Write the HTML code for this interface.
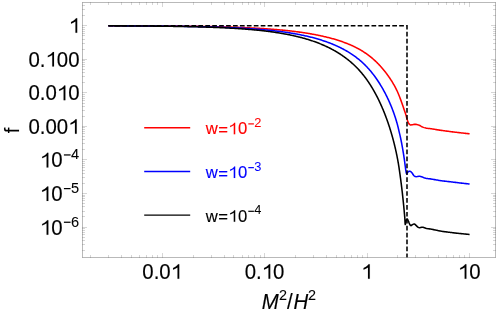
<!DOCTYPE html>
<html><head><meta charset="utf-8"><title>plot</title>
<style>html,body{margin:0;padding:0;background:#fff;overflow:hidden}</style></head>
<body>
<svg width="498" height="314" viewBox="0 0 498 314" style="display:block;will-change:transform">
<rect width="498" height="314" fill="#fff"/>
<path d="M108.40,25.76 L109.22,25.76 L110.04,25.76 L110.85,25.77 L111.67,25.77 L112.49,25.77 L113.31,25.77 L114.13,25.77 L114.94,25.78 L115.76,25.78 L116.58,25.78 L117.40,25.78 L118.22,25.78 L119.03,25.79 L119.85,25.79 L120.67,25.79 L121.49,25.79 L122.31,25.79 L123.12,25.80 L123.94,25.80 L124.76,25.80 L125.58,25.80 L126.40,25.81 L127.21,25.81 L128.03,25.81 L128.85,25.81 L129.67,25.82 L130.49,25.82 L131.30,25.82 L132.12,25.83 L132.94,25.83 L133.76,25.83 L134.58,25.83 L135.39,25.84 L136.21,25.84 L137.03,25.84 L137.85,25.85 L138.67,25.85 L139.48,25.85 L140.30,25.86 L141.12,25.86 L141.94,25.86 L142.76,25.87 L143.57,25.87 L144.39,25.88 L145.21,25.88 L146.03,25.88 L146.85,25.89 L147.66,25.89 L148.48,25.90 L149.30,25.90 L150.12,25.90 L150.94,25.91 L151.75,25.91 L152.57,25.92 L153.39,25.92 L154.21,25.93 L155.03,25.93 L155.84,25.94 L156.66,25.94 L157.48,25.95 L158.30,25.95 L159.12,25.96 L159.93,25.96 L160.75,25.97 L161.57,25.97 L162.39,25.98 L163.21,25.99 L164.02,25.99 L164.84,26.00 L165.66,26.00 L166.48,26.01 L167.30,26.02 L168.11,26.02 L168.93,26.03 L169.75,26.04 L170.57,26.04 L171.39,26.05 L172.20,26.06 L173.02,26.06 L173.84,26.07 L174.66,26.08 L175.48,26.09 L176.29,26.09 L177.11,26.10 L177.93,26.11 L178.75,26.12 L179.57,26.13 L180.38,26.13 L181.20,26.14 L182.02,26.15 L182.84,26.16 L183.66,26.17 L184.47,26.18 L185.29,26.19 L186.11,26.20 L186.93,26.21 L187.75,26.22 L188.56,26.23 L189.38,26.24 L190.20,26.25 L191.02,26.26 L191.84,26.27 L192.65,26.28 L193.47,26.29 L194.29,26.30 L195.11,26.32 L195.93,26.33 L196.74,26.34 L197.56,26.35 L198.38,26.37 L199.20,26.38 L200.01,26.39 L200.83,26.41 L201.65,26.42 L202.47,26.43 L203.29,26.45 L204.10,26.46 L204.92,26.48 L205.74,26.49 L206.56,26.51 L207.38,26.52 L208.19,26.54 L209.01,26.55 L209.83,26.57 L210.65,26.59 L211.47,26.60 L212.28,26.62 L213.10,26.64 L213.92,26.65 L214.74,26.67 L215.55,26.69 L216.37,26.71 L217.19,26.73 L218.01,26.75 L218.83,26.77 L219.64,26.79 L220.46,26.81 L221.28,26.83 L222.10,26.85 L222.91,26.87 L223.73,26.90 L224.55,26.92 L225.37,26.94 L226.18,26.96 L227.00,26.99 L227.82,27.01 L228.64,27.04 L229.46,27.06 L230.27,27.09 L231.09,27.11 L231.91,27.14 L232.73,27.17 L233.54,27.19 L234.36,27.22 L235.18,27.25 L236.00,27.28 L236.81,27.31 L237.63,27.34 L238.45,27.37 L239.27,27.40 L240.08,27.43 L240.90,27.46 L241.72,27.50 L242.54,27.53 L243.35,27.56 L244.17,27.60 L244.99,27.63 L245.80,27.67 L246.62,27.71 L247.44,27.74 L248.26,27.78 L249.07,27.82 L249.89,27.86 L250.71,27.90 L251.52,27.94 L252.34,27.98 L253.16,28.02 L253.98,28.06 L254.79,28.11 L255.61,28.15 L256.43,28.19 L257.24,28.24 L258.06,28.29 L258.88,28.33 L259.69,28.38 L260.51,28.43 L261.33,28.48 L262.14,28.53 L262.96,28.58 L263.77,28.64 L264.59,28.69 L265.41,28.74 L266.22,28.80 L267.04,28.86 L267.86,28.91 L268.67,28.97 L269.49,29.03 L270.30,29.09 L271.12,29.15 L271.93,29.21 L272.75,29.28 L273.57,29.34 L274.38,29.41 L275.20,29.47 L276.01,29.54 L276.83,29.61 L277.64,29.68 L278.46,29.75 L279.27,29.83 L280.09,29.90 L280.90,29.98 L281.71,30.05 L282.53,30.13 L283.34,30.21 L284.16,30.29 L284.97,30.37 L285.78,30.46 L286.60,30.54 L287.41,30.63 L288.23,30.71 L289.04,30.80 L289.85,30.89 L290.66,30.99 L291.48,31.08 L292.29,31.17 L293.10,31.27 L293.91,31.37 L294.73,31.47 L295.54,31.57 L296.35,31.68 L297.16,31.78 L297.97,31.89 L298.78,32.00 L299.59,32.11 L300.40,32.22 L301.21,32.33 L302.02,32.45 L302.83,32.57 L303.64,32.69 L304.45,32.81 L305.26,32.94 L306.07,33.06 L306.87,33.19 L307.68,33.32 L308.49,33.45 L309.30,33.59 L310.10,33.73 L310.91,33.87 L311.71,34.01 L312.52,34.15 L313.32,34.30 L314.13,34.45 L314.93,34.60 L315.73,34.75 L316.54,34.91 L317.34,35.07 L318.14,35.23 L318.94,35.40 L319.74,35.56 L320.54,35.73 L321.34,35.91 L322.14,36.08 L322.94,36.26 L323.74,36.44 L324.54,36.63 L325.33,36.82 L326.13,37.01 L326.92,37.20 L327.72,37.40 L328.51,37.60 L329.30,37.80 L330.09,38.01 L330.88,38.22 L331.67,38.44 L332.46,38.65 L333.25,38.87 L334.03,39.10 L334.82,39.33 L335.60,39.56 L336.39,39.80 L337.17,40.04 L337.95,40.29 L338.73,40.54 L339.50,40.79 L340.28,41.05 L341.06,41.31 L341.83,41.58 L342.60,41.85 L343.37,42.12 L344.14,42.40 L344.91,42.69 L345.67,42.98 L346.43,43.28 L347.19,43.58 L347.95,43.88 L348.71,44.19 L349.46,44.51 L350.22,44.83 L350.97,45.16 L351.71,45.49 L352.46,45.83 L353.20,46.17 L353.94,46.52 L354.68,46.87 L355.41,47.23 L356.14,47.60 L356.87,47.97 L357.60,48.35 L358.32,48.74 L359.03,49.14 L359.75,49.54 L360.46,49.94 L361.16,50.36 L361.86,50.78 L362.56,51.21 L363.25,51.64 L363.94,52.08 L364.63,52.53 L365.30,52.99 L365.98,53.45 L366.65,53.92 L367.32,54.39 L367.98,54.88 L368.63,55.37 L369.28,55.86 L369.93,56.37 L370.57,56.87 L371.20,57.39 L371.83,57.91 L372.46,58.44 L373.08,58.97 L373.69,59.51 L374.30,60.06 L374.90,60.61 L375.50,61.17 L376.10,61.73 L376.68,62.30 L377.27,62.88 L377.84,63.46 L378.41,64.04 L378.98,64.63 L379.54,65.23 L380.10,65.83 L380.65,66.43 L381.19,67.04 L381.73,67.66 L382.27,68.27 L382.80,68.90 L383.33,69.52 L383.85,70.16 L384.36,70.79 L384.87,71.43 L385.38,72.07 L385.88,72.72 L386.37,73.37 L386.86,74.03 L387.35,74.68 L387.83,75.35 L388.31,76.01 L388.78,76.68 L389.24,77.35 L389.71,78.03 L390.16,78.71 L390.61,79.39 L391.06,80.07 L391.50,80.76 L391.94,81.45 L392.36,82.15 L392.78,82.86 L393.19,83.56 L393.60,84.27 L394.01,84.98 L394.41,85.70 L394.81,86.41 L395.20,87.14 L395.58,87.86 L395.96,88.59 L396.32,89.31 L396.68,90.05 L397.03,90.78 L397.37,91.53 L397.70,92.28 L398.01,93.03 L398.33,93.79 L398.64,94.55 L398.94,95.31 L399.25,96.07 L399.56,96.82 L399.86,97.58 L400.16,98.35 L400.45,99.11 L400.74,99.87 L401.03,100.64 L401.31,101.41 L401.59,102.18 L401.86,102.95 L402.12,103.72 L402.38,104.50 L402.65,105.27 L402.91,106.05 L403.17,106.82 L403.44,107.60 L403.71,108.37 L403.98,109.14 L404.25,109.91 L404.52,110.68 L404.79,111.46 L405.05,112.23 L405.31,113.01 L405.55,113.79 L405.79,114.57 L406.01,115.36 L406.24,116.15 L406.46,116.93 L406.69,117.72 L406.93,118.50 L407.17,119.29 L407.40,120.08 L407.65,120.86 L407.92,121.63 L408.23,122.38 L408.59,123.14 L409.02,123.86 L409.55,124.43 L410.26,124.92 L411.03,124.97 L411.84,124.84 L412.67,124.69 L413.47,124.52 L414.28,124.36 L415.09,124.30 L415.90,124.36 L416.72,124.49 L417.51,124.65 L418.30,124.88 L419.07,125.18 L419.82,125.50 L420.54,125.89 L421.24,126.33 L421.95,126.74 L422.68,127.07 L423.45,127.36 L424.23,127.63 L425.02,127.87 L425.81,128.07 L426.61,128.22 L427.42,128.33 L428.23,128.41 L429.05,128.49 L429.87,128.58 L430.68,128.70 L431.48,128.82 L432.29,128.95 L433.10,129.08 L433.91,129.21 L434.71,129.35 L435.52,129.48 L436.33,129.62 L437.13,129.75 L437.94,129.88 L438.75,130.01 L439.56,130.13 L440.37,130.25 L441.18,130.36 L441.99,130.48 L442.80,130.59 L443.61,130.71 L444.42,130.82 L445.23,130.93 L446.04,131.03 L446.85,131.14 L447.66,131.25 L448.47,131.35 L449.28,131.46 L450.10,131.56 L450.91,131.66 L451.72,131.77 L452.53,131.87 L453.34,131.96 L454.16,132.06 L454.97,132.16 L455.78,132.26 L456.59,132.35 L457.40,132.44 L458.22,132.54 L459.03,132.63 L459.84,132.72 L460.66,132.82 L461.47,132.91 L462.28,133.00 L463.09,133.09 L463.91,133.18 L464.72,133.27 L465.53,133.36 L466.35,133.45 L467.16,133.54 L467.97,133.63 L468.79,133.71 L469.60,133.80" fill="none" stroke="#ff0000" stroke-width="1.55" stroke-linejoin="round"/>
<path d="M108.40,25.79 L109.30,25.80 L110.21,25.80 L111.11,25.80 L112.01,25.80 L112.92,25.81 L113.82,25.81 L114.72,25.81 L115.63,25.82 L116.53,25.82 L117.43,25.82 L118.34,25.83 L119.24,25.83 L120.14,25.83 L121.05,25.84 L121.95,25.84 L122.85,25.84 L123.76,25.85 L124.66,25.85 L125.56,25.85 L126.47,25.86 L127.37,25.86 L128.27,25.86 L129.18,25.87 L130.08,25.87 L130.98,25.88 L131.89,25.88 L132.79,25.89 L133.69,25.89 L134.60,25.89 L135.50,25.90 L136.40,25.90 L137.30,25.91 L138.21,25.91 L139.11,25.92 L140.01,25.92 L140.92,25.93 L141.82,25.93 L142.72,25.94 L143.63,25.95 L144.53,25.95 L145.43,25.96 L146.34,25.96 L147.24,25.97 L148.14,25.98 L149.05,25.98 L149.95,25.99 L150.85,26.00 L151.76,26.00 L152.66,26.01 L153.56,26.02 L154.47,26.02 L155.37,26.03 L156.27,26.04 L157.18,26.05 L158.08,26.05 L158.98,26.06 L159.89,26.07 L160.79,26.08 L161.69,26.09 L162.60,26.09 L163.50,26.10 L164.40,26.11 L165.31,26.12 L166.21,26.13 L167.11,26.14 L168.02,26.15 L168.92,26.16 L169.82,26.17 L170.73,26.18 L171.63,26.19 L172.53,26.20 L173.44,26.21 L174.34,26.22 L175.24,26.23 L176.14,26.25 L177.05,26.26 L177.95,26.27 L178.85,26.28 L179.76,26.29 L180.66,26.31 L181.56,26.32 L182.47,26.33 L183.37,26.35 L184.27,26.36 L185.18,26.38 L186.08,26.39 L186.98,26.40 L187.89,26.42 L188.79,26.43 L189.69,26.45 L190.60,26.47 L191.50,26.48 L192.40,26.50 L193.30,26.52 L194.21,26.53 L195.11,26.55 L196.01,26.57 L196.92,26.59 L197.82,26.61 L198.72,26.63 L199.63,26.65 L200.53,26.67 L201.43,26.69 L202.34,26.71 L203.24,26.73 L204.14,26.75 L205.04,26.77 L205.95,26.79 L206.85,26.82 L207.75,26.84 L208.66,26.86 L209.56,26.89 L210.46,26.91 L211.37,26.94 L212.27,26.96 L213.17,26.99 L214.07,27.02 L214.98,27.05 L215.88,27.07 L216.78,27.10 L217.69,27.13 L218.59,27.16 L219.49,27.19 L220.39,27.22 L221.30,27.25 L222.20,27.29 L223.10,27.32 L224.00,27.35 L224.91,27.39 L225.81,27.42 L226.71,27.46 L227.62,27.49 L228.52,27.53 L229.42,27.57 L230.32,27.61 L231.23,27.65 L232.13,27.69 L233.03,27.73 L233.93,27.77 L234.83,27.81 L235.74,27.86 L236.64,27.90 L237.54,27.95 L238.44,27.99 L239.35,28.04 L240.25,28.09 L241.15,28.14 L242.05,28.19 L242.95,28.24 L243.85,28.29 L244.76,28.34 L245.66,28.40 L246.56,28.45 L247.46,28.51 L248.36,28.57 L249.26,28.63 L250.17,28.69 L251.07,28.75 L251.97,28.81 L252.87,28.87 L253.77,28.94 L254.67,29.00 L255.57,29.07 L256.47,29.14 L257.37,29.21 L258.27,29.28 L259.17,29.35 L260.07,29.43 L260.97,29.50 L261.87,29.58 L262.77,29.66 L263.67,29.74 L264.57,29.82 L265.47,29.90 L266.37,29.99 L267.27,30.07 L268.17,30.16 L269.07,30.25 L269.97,30.34 L270.87,30.44 L271.76,30.53 L272.66,30.63 L273.56,30.73 L274.46,30.83 L275.35,30.93 L276.25,31.04 L277.15,31.15 L278.05,31.25 L278.94,31.37 L279.84,31.48 L280.73,31.59 L281.63,31.71 L282.53,31.83 L283.42,31.96 L284.31,32.08 L285.21,32.21 L286.10,32.34 L287.00,32.47 L287.89,32.60 L288.78,32.74 L289.68,32.88 L290.57,33.02 L291.46,33.17 L292.35,33.32 L293.24,33.47 L294.13,33.62 L295.02,33.78 L295.91,33.94 L296.80,34.10 L297.69,34.27 L298.57,34.43 L299.46,34.60 L300.35,34.78 L301.23,34.96 L302.12,35.14 L303.00,35.32 L303.88,35.51 L304.77,35.70 L305.65,35.90 L306.53,36.10 L307.41,36.30 L308.29,36.51 L309.17,36.72 L310.05,36.93 L310.92,37.15 L311.80,37.37 L312.67,37.60 L313.55,37.83 L314.42,38.06 L315.29,38.30 L316.16,38.54 L317.03,38.79 L317.90,39.04 L318.76,39.30 L319.63,39.56 L320.49,39.82 L321.35,40.09 L322.21,40.37 L323.07,40.65 L323.93,40.93 L324.78,41.22 L325.64,41.52 L326.49,41.82 L327.34,42.12 L328.19,42.43 L329.03,42.75 L329.88,43.07 L330.72,43.40 L331.56,43.73 L332.40,44.07 L333.23,44.42 L334.07,44.77 L334.90,45.12 L335.72,45.48 L336.55,45.85 L337.37,46.23 L338.19,46.61 L339.00,47.00 L339.82,47.39 L340.63,47.79 L341.43,48.19 L342.24,48.61 L343.04,49.03 L343.83,49.45 L344.63,49.89 L345.42,50.33 L346.20,50.77 L346.98,51.23 L347.76,51.69 L348.53,52.15 L349.30,52.63 L350.07,53.11 L350.83,53.60 L351.58,54.09 L352.33,54.59 L353.08,55.10 L353.82,55.62 L354.56,56.14 L355.29,56.67 L356.01,57.21 L356.73,57.76 L357.45,58.31 L358.15,58.87 L358.86,59.44 L359.55,60.02 L360.24,60.60 L360.92,61.19 L361.60,61.79 L362.27,62.40 L362.93,63.01 L363.59,63.63 L364.24,64.25 L364.89,64.89 L365.53,65.53 L366.16,66.17 L366.78,66.82 L367.40,67.48 L368.01,68.15 L368.62,68.82 L369.22,69.49 L369.81,70.18 L370.40,70.86 L370.98,71.56 L371.55,72.25 L372.12,72.96 L372.68,73.66 L373.23,74.38 L373.78,75.09 L374.32,75.82 L374.86,76.54 L375.39,77.27 L375.92,78.01 L376.43,78.75 L376.95,79.49 L377.46,80.24 L377.96,80.99 L378.45,81.75 L378.94,82.50 L379.43,83.27 L379.91,84.03 L380.38,84.80 L380.85,85.57 L381.32,86.35 L381.78,87.12 L382.23,87.91 L382.68,88.69 L383.12,89.48 L383.56,90.27 L384.00,91.06 L384.43,91.85 L384.85,92.65 L385.27,93.45 L385.69,94.25 L386.10,95.06 L386.50,95.86 L386.90,96.67 L387.29,97.49 L387.68,98.30 L388.07,99.12 L388.45,99.94 L388.83,100.76 L389.20,101.58 L389.56,102.41 L389.92,103.24 L390.28,104.07 L390.63,104.90 L390.98,105.73 L391.32,106.57 L391.66,107.41 L391.99,108.25 L392.32,109.09 L392.64,109.93 L392.96,110.78 L393.28,111.62 L393.58,112.47 L393.89,113.32 L394.19,114.18 L394.48,115.03 L394.77,115.89 L395.06,116.74 L395.33,117.60 L395.61,118.46 L395.88,119.32 L396.14,120.19 L396.40,121.05 L396.66,121.92 L396.90,122.79 L397.15,123.66 L397.39,124.53 L397.62,125.40 L397.84,126.28 L398.06,127.15 L398.27,128.03 L398.48,128.91 L398.68,129.79 L398.89,130.67 L399.09,131.55 L399.30,132.43 L399.51,133.31 L399.72,134.19 L399.93,135.07 L400.13,135.95 L400.33,136.83 L400.53,137.71 L400.72,138.59 L400.90,139.48 L401.08,140.36 L401.26,141.25 L401.43,142.13 L401.60,143.02 L401.77,143.91 L401.93,144.80 L402.09,145.69 L402.25,146.58 L402.41,147.47 L402.57,148.35 L402.72,149.24 L402.88,150.14 L403.03,151.03 L403.17,151.92 L403.32,152.81 L403.46,153.70 L403.60,154.59 L403.75,155.48 L403.88,156.38 L404.02,157.27 L404.15,158.16 L404.29,159.06 L404.41,159.95 L404.54,160.85 L404.66,161.74 L404.78,162.64 L404.89,163.53 L405.01,164.43 L405.13,165.32 L405.24,166.22 L405.37,167.11 L405.48,168.01 L405.60,168.91 L405.72,169.81 L405.85,170.70 L406.02,171.59 L406.22,172.68 L406.49,173.65 L406.82,173.83 L407.26,173.04 L407.81,172.09 L408.52,171.59 L409.42,171.25 L410.23,171.30 L411.01,171.82 L411.70,172.50 L412.27,173.18 L412.74,173.99 L413.22,174.80 L413.77,175.47 L414.47,176.06 L415.28,176.56 L416.13,176.69 L417.00,176.60 L417.92,176.45 L418.83,176.33 L419.73,176.32 L420.61,176.48 L421.49,176.74 L422.35,177.02 L423.19,177.37 L424.02,177.77 L424.85,178.12 L425.71,178.34 L426.59,178.48 L427.49,178.59 L428.39,178.68 L429.30,178.78 L430.20,178.89 L431.09,179.02 L431.98,179.16 L432.87,179.31 L433.76,179.46 L434.65,179.62 L435.54,179.77 L436.43,179.93 L437.32,180.10 L438.21,180.26 L439.10,180.42 L439.99,180.57 L440.88,180.70 L441.78,180.82 L442.67,180.93 L443.57,181.04 L444.47,181.14 L445.37,181.24 L446.26,181.34 L447.16,181.44 L448.06,181.54 L448.96,181.63 L449.86,181.74 L450.75,181.84 L451.65,181.95 L452.55,182.06 L453.45,182.16 L454.34,182.27 L455.24,182.38 L456.14,182.49 L457.03,182.59 L457.93,182.70 L458.83,182.81 L459.72,182.91 L460.62,183.01 L461.52,183.12 L462.42,183.22 L463.31,183.32 L464.21,183.42 L465.11,183.52 L466.01,183.61 L466.91,183.71 L467.80,183.81 L468.70,183.90 L469.60,184.00" fill="none" stroke="#0000ff" stroke-width="1.55" stroke-linejoin="round"/>
<path d="M108.40,25.83 L109.11,25.83 L109.83,25.83 L110.54,25.83 L111.26,25.84 L111.97,25.84 L112.69,25.84 L113.40,25.85 L114.12,25.85 L114.83,25.85 L115.55,25.85 L116.26,25.86 L116.98,25.86 L117.69,25.86 L118.41,25.87 L119.12,25.87 L119.84,25.87 L120.55,25.88 L121.27,25.88 L121.98,25.88 L122.70,25.89 L123.41,25.89 L124.13,25.89 L124.84,25.90 L125.56,25.90 L126.27,25.91 L126.99,25.91 L127.70,25.91 L128.42,25.92 L129.13,25.92 L129.85,25.93 L130.56,25.93 L131.28,25.93 L131.99,25.94 L132.71,25.94 L133.42,25.95 L134.14,25.95 L134.85,25.96 L135.57,25.96 L136.28,25.97 L137.00,25.97 L137.71,25.98 L138.43,25.98 L139.14,25.99 L139.86,25.99 L140.57,26.00 L141.29,26.00 L142.00,26.01 L142.72,26.01 L143.43,26.02 L144.15,26.02 L144.86,26.03 L145.58,26.04 L146.29,26.04 L147.01,26.05 L147.72,26.05 L148.44,26.06 L149.15,26.07 L149.87,26.07 L150.58,26.08 L151.30,26.09 L152.01,26.09 L152.72,26.10 L153.44,26.11 L154.15,26.11 L154.87,26.12 L155.58,26.13 L156.30,26.14 L157.01,26.14 L157.73,26.15 L158.44,26.16 L159.16,26.17 L159.87,26.17 L160.59,26.18 L161.30,26.19 L162.02,26.20 L162.73,26.21 L163.45,26.22 L164.16,26.23 L164.88,26.24 L165.59,26.24 L166.31,26.25 L167.02,26.26 L167.74,26.27 L168.45,26.28 L169.17,26.29 L169.88,26.30 L170.60,26.31 L171.31,26.32 L172.03,26.33 L172.74,26.34 L173.46,26.36 L174.17,26.37 L174.89,26.38 L175.60,26.39 L176.32,26.40 L177.03,26.41 L177.75,26.43 L178.46,26.44 L179.17,26.45 L179.89,26.46 L180.60,26.48 L181.32,26.49 L182.03,26.50 L182.75,26.52 L183.46,26.53 L184.18,26.54 L184.89,26.56 L185.61,26.57 L186.32,26.59 L187.04,26.60 L187.75,26.62 L188.47,26.63 L189.18,26.65 L189.90,26.66 L190.61,26.68 L191.33,26.70 L192.04,26.71 L192.76,26.73 L193.47,26.75 L194.19,26.76 L194.90,26.78 L195.61,26.80 L196.33,26.82 L197.04,26.84 L197.76,26.85 L198.47,26.87 L199.19,26.89 L199.90,26.91 L200.62,26.93 L201.33,26.95 L202.05,26.97 L202.76,27.00 L203.48,27.02 L204.19,27.04 L204.91,27.06 L205.62,27.08 L206.33,27.11 L207.05,27.13 L207.76,27.15 L208.48,27.18 L209.19,27.20 L209.91,27.23 L210.62,27.25 L211.34,27.28 L212.05,27.30 L212.76,27.33 L213.48,27.36 L214.19,27.38 L214.91,27.41 L215.62,27.44 L216.34,27.47 L217.05,27.50 L217.77,27.53 L218.48,27.56 L219.19,27.59 L219.91,27.62 L220.62,27.65 L221.34,27.68 L222.05,27.71 L222.77,27.75 L223.48,27.78 L224.19,27.81 L224.91,27.85 L225.62,27.88 L226.34,27.92 L227.05,27.95 L227.76,27.99 L228.48,28.03 L229.19,28.07 L229.91,28.11 L230.62,28.15 L231.33,28.18 L232.05,28.23 L232.76,28.27 L233.47,28.31 L234.19,28.35 L234.90,28.39 L235.62,28.44 L236.33,28.48 L237.04,28.53 L237.76,28.57 L238.47,28.62 L239.18,28.67 L239.90,28.72 L240.61,28.76 L241.32,28.81 L242.04,28.86 L242.75,28.92 L243.46,28.97 L244.17,29.02 L244.89,29.07 L245.60,29.13 L246.31,29.18 L247.03,29.24 L247.74,29.30 L248.45,29.36 L249.16,29.42 L249.88,29.48 L250.59,29.54 L251.30,29.60 L252.01,29.66 L252.72,29.73 L253.44,29.79 L254.15,29.86 L254.86,29.92 L255.57,29.99 L256.28,30.06 L257.00,30.13 L257.71,30.20 L258.42,30.27 L259.13,30.35 L259.84,30.42 L260.55,30.50 L261.26,30.57 L261.97,30.65 L262.68,30.73 L263.39,30.81 L264.10,30.89 L264.81,30.98 L265.52,31.06 L266.23,31.15 L266.94,31.24 L267.65,31.32 L268.36,31.41 L269.07,31.50 L269.78,31.60 L270.49,31.69 L271.20,31.79 L271.91,31.88 L272.61,31.98 L273.32,32.08 L274.03,32.18 L274.74,32.29 L275.44,32.39 L276.15,32.50 L276.86,32.61 L277.56,32.72 L278.27,32.83 L278.98,32.94 L279.68,33.06 L280.39,33.17 L281.09,33.29 L281.80,33.41 L282.50,33.53 L283.21,33.66 L283.91,33.78 L284.61,33.91 L285.32,34.04 L286.02,34.17 L286.72,34.30 L287.42,34.44 L288.12,34.58 L288.83,34.71 L289.53,34.86 L290.23,35.00 L290.93,35.15 L291.63,35.29 L292.33,35.44 L293.02,35.60 L293.72,35.75 L294.42,35.91 L295.12,36.07 L295.81,36.23 L296.51,36.40 L297.20,36.56 L297.90,36.73 L298.59,36.90 L299.29,37.08 L299.98,37.25 L300.67,37.43 L301.36,37.61 L302.05,37.79 L302.74,37.98 L303.43,38.17 L304.12,38.36 L304.81,38.56 L305.50,38.75 L306.18,38.96 L306.87,39.16 L307.55,39.36 L308.24,39.57 L308.92,39.79 L309.60,40.00 L310.28,40.22 L310.96,40.44 L311.64,40.66 L312.32,40.89 L313.00,41.12 L313.67,41.36 L314.35,41.59 L315.02,41.83 L315.69,42.08 L316.36,42.32 L317.03,42.57 L317.70,42.82 L318.37,43.08 L319.04,43.34 L319.70,43.60 L320.36,43.87 L321.02,44.14 L321.69,44.42 L322.34,44.69 L323.00,44.98 L323.66,45.26 L324.31,45.55 L324.96,45.84 L325.61,46.14 L326.26,46.44 L326.91,46.74 L327.56,47.05 L328.20,47.36 L328.84,47.67 L329.48,47.99 L330.12,48.31 L330.76,48.64 L331.39,48.97 L332.02,49.31 L332.65,49.64 L333.28,49.99 L333.90,50.33 L334.53,50.68 L335.15,51.04 L335.77,51.40 L336.38,51.76 L337.00,52.13 L337.61,52.50 L338.22,52.87 L338.82,53.25 L339.43,53.63 L340.03,54.02 L340.63,54.41 L341.22,54.81 L341.82,55.21 L342.41,55.61 L342.99,56.02 L343.58,56.43 L344.16,56.85 L344.74,57.27 L345.31,57.69 L345.88,58.12 L346.45,58.55 L347.02,58.99 L347.58,59.43 L348.14,59.87 L348.70,60.32 L349.25,60.77 L349.80,61.23 L350.35,61.69 L350.89,62.16 L351.43,62.62 L351.97,63.10 L352.50,63.57 L353.03,64.05 L353.56,64.54 L354.08,65.02 L354.60,65.52 L355.12,66.01 L355.63,66.51 L356.14,67.01 L356.64,67.52 L357.14,68.03 L357.64,68.55 L358.13,69.06 L358.62,69.59 L359.10,70.11 L359.58,70.64 L360.06,71.18 L360.53,71.71 L361.00,72.25 L361.46,72.80 L361.92,73.34 L362.38,73.90 L362.83,74.45 L363.28,75.01 L363.72,75.57 L364.16,76.13 L364.60,76.69 L365.03,77.26 L365.46,77.83 L365.89,78.41 L366.31,78.99 L366.73,79.57 L367.14,80.15 L367.56,80.73 L367.96,81.32 L368.37,81.91 L368.77,82.50 L369.16,83.10 L369.56,83.70 L369.94,84.30 L370.33,84.90 L370.71,85.50 L371.09,86.11 L371.47,86.72 L371.84,87.33 L372.21,87.94 L372.58,88.55 L372.94,89.17 L373.30,89.79 L373.66,90.41 L374.01,91.03 L374.36,91.65 L374.71,92.28 L375.05,92.90 L375.39,93.53 L375.73,94.16 L376.07,94.79 L376.40,95.42 L376.73,96.06 L377.06,96.69 L377.38,97.33 L377.70,97.97 L378.02,98.61 L378.34,99.25 L378.65,99.89 L378.96,100.54 L379.27,101.18 L379.57,101.83 L379.88,102.48 L380.18,103.13 L380.47,103.78 L380.77,104.43 L381.06,105.08 L381.35,105.73 L381.64,106.39 L381.93,107.04 L382.21,107.70 L382.49,108.36 L382.77,109.01 L383.05,109.67 L383.32,110.33 L383.59,110.99 L383.86,111.66 L384.13,112.32 L384.40,112.98 L384.66,113.65 L384.92,114.31 L385.18,114.98 L385.44,115.65 L385.69,116.32 L385.95,116.98 L386.19,117.65 L386.44,118.32 L386.69,119.00 L386.93,119.67 L387.17,120.34 L387.41,121.01 L387.65,121.69 L387.88,122.36 L388.12,123.04 L388.35,123.72 L388.58,124.39 L388.80,125.07 L389.03,125.75 L389.25,126.43 L389.47,127.11 L389.69,127.79 L389.91,128.47 L390.12,129.15 L390.33,129.84 L390.54,130.52 L390.75,131.20 L390.96,131.89 L391.16,132.57 L391.37,133.26 L391.57,133.95 L391.77,134.63 L391.96,135.32 L392.16,136.01 L392.35,136.70 L392.54,137.38 L392.73,138.07 L392.92,138.76 L393.11,139.45 L393.29,140.15 L393.47,140.84 L393.65,141.53 L393.83,142.22 L394.01,142.91 L394.18,143.61 L394.35,144.30 L394.52,145.00 L394.69,145.69 L394.86,146.39 L395.03,147.08 L395.19,147.78 L395.35,148.47 L395.51,149.17 L395.67,149.87 L395.82,150.57 L395.98,151.26 L396.13,151.96 L396.28,152.66 L396.43,153.36 L396.57,154.06 L396.72,154.76 L396.86,155.46 L397.00,156.16 L397.14,156.86 L397.28,157.57 L397.41,158.27 L397.54,158.97 L397.68,159.67 L397.81,160.38 L397.94,161.08 L398.06,161.78 L398.19,162.49 L398.31,163.19 L398.43,163.90 L398.54,164.60 L398.66,165.31 L398.77,166.01 L398.88,166.72 L398.98,167.43 L399.09,168.13 L399.19,168.84 L399.30,169.55 L399.40,170.26 L399.50,170.96 L399.60,171.67 L399.70,172.38 L399.81,173.09 L399.91,173.80 L400.01,174.50 L400.10,175.21 L400.20,175.92 L400.30,176.63 L400.39,177.34 L400.49,178.04 L400.59,178.75 L400.68,179.46 L400.77,180.17 L400.87,180.88 L400.96,181.59 L401.05,182.30 L401.14,183.01 L401.23,183.72 L401.32,184.43 L401.41,185.13 L401.50,185.84 L401.59,186.55 L401.67,187.26 L401.76,187.97 L401.84,188.68 L401.93,189.39 L402.01,190.10 L402.09,190.81 L402.18,191.52 L402.26,192.23 L402.34,192.94 L402.42,193.65 L402.50,194.37 L402.57,195.08 L402.65,195.79 L402.73,196.50 L402.80,197.21 L402.88,197.92 L402.96,198.63 L403.03,199.34 L403.11,200.05 L403.18,200.76 L403.25,201.47 L403.33,202.19 L403.40,202.90 L403.47,203.61 L403.55,204.32 L403.62,205.03 L403.69,205.74 L403.76,206.45 L403.83,207.16 L403.90,207.88 L403.97,208.59 L404.03,209.30 L404.10,210.01 L404.17,210.72 L404.23,211.44 L404.30,212.15 L404.36,212.86 L404.42,213.57 L404.49,214.28 L404.55,215.00 L404.61,215.71 L404.67,216.42 L404.73,217.13 L404.79,217.85 L404.84,218.60 L404.89,219.47 L404.94,220.40 L404.98,221.35 L405.03,222.26 L405.08,223.08 L405.13,223.76 L405.20,224.24 L405.27,224.48 L405.36,224.39 L405.48,223.86 L405.63,223.05 L405.80,222.13 L406.00,221.26 L406.22,220.52 L406.53,219.69 L406.88,219.04 L407.23,218.95 L407.61,219.46 L407.99,220.24 L408.34,220.97 L408.62,221.63 L408.88,222.31 L409.13,222.98 L409.41,223.64 L409.75,224.28 L410.15,225.02 L410.61,225.59 L411.12,225.64 L411.71,225.21 L412.34,224.73 L412.99,224.39 L413.68,224.10 L414.32,224.01 L414.92,224.30 L415.50,224.83 L416.05,225.34 L416.57,225.86 L417.06,226.41 L417.57,226.91 L418.14,227.27 L418.81,227.57 L419.52,227.70 L420.21,227.61 L420.92,227.42 L421.62,227.24 L422.32,227.21 L423.02,227.36 L423.71,227.58 L424.40,227.79 L425.08,228.01 L425.76,228.24 L426.44,228.44 L427.14,228.59 L427.84,228.70 L428.55,228.80 L429.26,228.89 L429.97,228.99 L430.68,229.10 L431.38,229.22 L432.09,229.35 L432.79,229.48 L433.49,229.62 L434.19,229.76 L434.89,229.91 L435.59,230.05 L436.29,230.20 L436.99,230.34 L437.69,230.49 L438.39,230.65 L439.09,230.80 L439.79,230.95 L440.49,231.08 L441.20,231.20 L441.90,231.31 L442.61,231.41 L443.32,231.51 L444.02,231.61 L444.73,231.70 L445.44,231.79 L446.15,231.88 L446.86,231.97 L447.57,232.06 L448.28,232.15 L448.99,232.24 L449.70,232.33 L450.41,232.42 L451.12,232.51 L451.83,232.60 L452.54,232.69 L453.25,232.78 L453.96,232.87 L454.67,232.95 L455.38,233.04 L456.09,233.12 L456.80,233.20 L457.51,233.28 L458.22,233.35 L458.93,233.42 L459.64,233.49 L460.35,233.56 L461.07,233.63 L461.78,233.69 L462.49,233.76 L463.20,233.83 L463.91,233.90 L464.62,233.97 L465.33,234.04 L466.05,234.12 L466.76,234.19 L467.47,234.27 L468.18,234.35 L468.89,234.42 L469.60,234.50" fill="none" stroke="#000" stroke-width="1.55" stroke-linejoin="round"/>
<path d="M108.35,25.8 L407,25.8 L407,257.5" fill="none" stroke="#000" stroke-width="1.55" stroke-dasharray="4.7 2.225"/>
<path d="M90.5,258.0v-3.0M90.5,2.0v3.0M108.5,258.0v-3.0M108.5,2.0v3.0M121.5,258.0v-3.0M121.5,2.0v3.0M131.5,258.0v-3.0M131.5,2.0v3.0M139.5,258.0v-3.0M139.5,2.0v3.0M146.5,258.0v-3.0M146.5,2.0v3.0M152.5,258.0v-3.0M152.5,2.0v3.0M157.5,258.0v-3.0M157.5,2.0v3.0M162.5,258.0v-5.0M162.5,2.0v5.0M193.5,258.0v-3.0M193.5,2.0v3.0M211.5,258.0v-3.0M211.5,2.0v3.0M224.5,258.0v-3.0M224.5,2.0v3.0M233.5,258.0v-3.0M233.5,2.0v3.0M242.5,258.0v-3.0M242.5,2.0v3.0M248.5,258.0v-3.0M248.5,2.0v3.0M254.5,258.0v-3.0M254.5,2.0v3.0M260.5,258.0v-3.0M260.5,2.0v3.0M264.5,258.0v-5.0M264.5,2.0v5.0M295.5,258.0v-3.0M295.5,2.0v3.0M313.5,258.0v-3.0M313.5,2.0v3.0M326.5,258.0v-3.0M326.5,2.0v3.0M336.5,258.0v-3.0M336.5,2.0v3.0M344.5,258.0v-3.0M344.5,2.0v3.0M351.5,258.0v-3.0M351.5,2.0v3.0M357.5,258.0v-3.0M357.5,2.0v3.0M362.5,258.0v-3.0M362.5,2.0v3.0M367.5,258.0v-5.0M367.5,2.0v5.0M397.5,258.0v-3.0M397.5,2.0v3.0M415.5,258.0v-3.0M415.5,2.0v3.0M428.5,258.0v-3.0M428.5,2.0v3.0M438.5,258.0v-3.0M438.5,2.0v3.0M446.5,258.0v-3.0M446.5,2.0v3.0M453.5,258.0v-3.0M453.5,2.0v3.0M459.5,258.0v-3.0M459.5,2.0v3.0M464.5,258.0v-3.0M464.5,2.0v3.0M469.5,258.0v-5.0M469.5,2.0v5.0M82.0,250.5h3.0M496.0,250.5h-3.0M82.0,244.5h3.0M496.0,244.5h-3.0M82.0,240.5h3.0M496.0,240.5h-3.0M82.0,237.5h3.0M496.0,237.5h-3.0M82.0,234.5h3.0M496.0,234.5h-3.0M82.0,232.5h3.0M496.0,232.5h-3.0M82.0,230.5h3.0M496.0,230.5h-3.0M82.0,228.5h3.0M496.0,228.5h-3.0M82.0,227.5h5.0M496.0,227.5h-5.0M82.0,216.5h3.0M496.0,216.5h-3.0M82.0,211.5h3.0M496.0,211.5h-3.0M82.0,206.5h3.0M496.0,206.5h-3.0M82.0,203.5h3.0M496.0,203.5h-3.0M82.0,200.5h3.0M496.0,200.5h-3.0M82.0,198.5h3.0M496.0,198.5h-3.0M82.0,196.5h3.0M496.0,196.5h-3.0M82.0,195.5h3.0M496.0,195.5h-3.0M82.0,193.5h5.0M496.0,193.5h-5.0M82.0,183.5h3.0M496.0,183.5h-3.0M82.0,177.5h3.0M496.0,177.5h-3.0M82.0,173.5h3.0M496.0,173.5h-3.0M82.0,170.5h3.0M496.0,170.5h-3.0M82.0,167.5h3.0M496.0,167.5h-3.0M82.0,165.5h3.0M496.0,165.5h-3.0M82.0,163.5h3.0M496.0,163.5h-3.0M82.0,161.5h3.0M496.0,161.5h-3.0M82.0,159.5h5.0M496.0,159.5h-5.0M82.0,149.5h3.0M496.0,149.5h-3.0M82.0,143.5h3.0M496.0,143.5h-3.0M82.0,139.5h3.0M496.0,139.5h-3.0M82.0,136.5h3.0M496.0,136.5h-3.0M82.0,133.5h3.0M496.0,133.5h-3.0M82.0,131.5h3.0M496.0,131.5h-3.0M82.0,129.5h3.0M496.0,129.5h-3.0M82.0,127.5h3.0M496.0,127.5h-3.0M82.0,126.5h5.0M496.0,126.5h-5.0M82.0,116.5h3.0M496.0,116.5h-3.0M82.0,110.5h3.0M496.0,110.5h-3.0M82.0,106.5h3.0M496.0,106.5h-3.0M82.0,103.5h3.0M496.0,103.5h-3.0M82.0,100.5h3.0M496.0,100.5h-3.0M82.0,98.5h3.0M496.0,98.5h-3.0M82.0,96.5h3.0M496.0,96.5h-3.0M82.0,94.5h3.0M496.0,94.5h-3.0M82.0,92.5h5.0M496.0,92.5h-5.0M82.0,82.5h3.0M496.0,82.5h-3.0M82.0,76.5h3.0M496.0,76.5h-3.0M82.0,72.5h3.0M496.0,72.5h-3.0M82.0,69.5h3.0M496.0,69.5h-3.0M82.0,66.5h3.0M496.0,66.5h-3.0M82.0,64.5h3.0M496.0,64.5h-3.0M82.0,62.5h3.0M496.0,62.5h-3.0M82.0,60.5h3.0M496.0,60.5h-3.0M82.0,59.5h5.0M496.0,59.5h-5.0M82.0,49.5h3.0M496.0,49.5h-3.0M82.0,43.5h3.0M496.0,43.5h-3.0M82.0,39.5h3.0M496.0,39.5h-3.0M82.0,35.5h3.0M496.0,35.5h-3.0M82.0,33.5h3.0M496.0,33.5h-3.0M82.0,31.5h3.0M496.0,31.5h-3.0M82.0,29.5h3.0M496.0,29.5h-3.0M82.0,27.5h3.0M496.0,27.5h-3.0M82.0,25.5h5.0M496.0,25.5h-5.0M82.0,15.5h3.0M496.0,15.5h-3.0M82.0,9.5h3.0M496.0,9.5h-3.0M82.0,5.5h3.0M496.0,5.5h-3.0" fill="none" stroke="#666" stroke-width="0.27"/>
<path d="M82.27,2.5H495.73" fill="none" stroke="#666" stroke-width="0.46"/>
<path d="M82.27,257.5H495.73" fill="none" stroke="#666" stroke-width="0.46"/>
<path d="M82.5,2.27V257.73" fill="none" stroke="#666" stroke-width="0.46"/>
<path d="M495.5,2.27V257.73" fill="none" stroke="#666" stroke-width="0.46"/>
<g style="font-family:'Liberation Sans',sans-serif;font-kerning:none" stroke-linejoin="round">
<path d="M77.22,32.85 L75.45,32.85 L75.45,21.43 L73.24,22.72 L71.00,23.68 L71.00,22.05 L73.39,20.86 L75.22,19.35 L76.00,18.25 L77.22,18.25Z" fill="#000" stroke="#000" stroke-width="0.084"/>
<text transform="translate(28.45,66.50) scale(1,1.04)" font-size="20.4" fill="#000" stroke="#000" stroke-width="0.14">0.</text><path d="M54.03,66.50 L52.26,66.50 L52.26,55.08 L50.05,56.37 L47.81,57.33 L47.81,55.70 L50.20,54.51 L52.03,53.00 L52.81,51.90 L54.03,51.90Z" fill="#000" stroke="#000" stroke-width="0.084"/><text transform="translate(56.81,66.50) scale(1,1.04)" font-size="20.4" fill="#000" stroke="#000" stroke-width="0.14">00</text>
<text transform="translate(28.45,100.15) scale(1,1.04)" font-size="20.4" fill="#000" stroke="#000" stroke-width="0.14">0.0</text><path d="M65.38,100.15 L63.60,100.15 L63.60,88.73 L61.40,90.02 L59.15,90.98 L59.15,89.35 L61.54,88.16 L63.38,86.65 L64.15,85.55 L65.38,85.55Z" fill="#000" stroke="#000" stroke-width="0.084"/><text transform="translate(68.15,100.15) scale(1,1.04)" font-size="20.4" fill="#000" stroke="#000" stroke-width="0.14">0</text>
<text transform="translate(28.45,133.80) scale(1,1.04)" font-size="20.4" fill="#000" stroke="#000" stroke-width="0.14">0.00</text><path d="M76.72,133.80 L74.95,133.80 L74.95,122.38 L72.74,123.67 L70.50,124.63 L70.50,123.00 L72.89,121.81 L74.72,120.30 L75.50,119.20 L76.72,119.20Z" fill="#000" stroke="#000" stroke-width="0.084"/>
<path d="M48.37,167.45 L46.59,167.45 L46.59,156.03 L44.39,157.32 L42.15,158.28 L42.15,156.65 L44.53,155.46 L46.37,153.95 L47.14,152.85 L48.37,152.85Z" fill="#000" stroke="#000" stroke-width="0.084"/><text transform="translate(51.15,167.45) scale(1,1.04)" font-size="20.4" fill="#000" stroke="#000" stroke-width="0.14">0</text>
<path d="M63.9,154.95h6.7" stroke="#000" stroke-width="1.25" fill="none"/>
<text transform="translate(70.90,159.35) scale(1,1.04)" font-size="14.6" fill="#000" stroke="#000" stroke-width="0.08">4</text>
<path d="M48.37,201.10 L46.59,201.10 L46.59,189.68 L44.39,190.97 L42.15,191.93 L42.15,190.30 L44.53,189.11 L46.37,187.60 L47.14,186.50 L48.37,186.50Z" fill="#000" stroke="#000" stroke-width="0.084"/><text transform="translate(51.15,201.10) scale(1,1.04)" font-size="20.4" fill="#000" stroke="#000" stroke-width="0.14">0</text>
<path d="M63.9,188.60h6.7" stroke="#000" stroke-width="1.25" fill="none"/>
<text transform="translate(70.90,193.00) scale(1,1.04)" font-size="14.6" fill="#000" stroke="#000" stroke-width="0.08">5</text>
<path d="M48.37,234.75 L46.59,234.75 L46.59,223.33 L44.39,224.62 L42.15,225.58 L42.15,223.95 L44.53,222.76 L46.37,221.25 L47.14,220.15 L48.37,220.15Z" fill="#000" stroke="#000" stroke-width="0.084"/><text transform="translate(51.15,234.75) scale(1,1.04)" font-size="20.4" fill="#000" stroke="#000" stroke-width="0.14">0</text>
<path d="M63.9,222.25h6.7" stroke="#000" stroke-width="1.25" fill="none"/>
<text transform="translate(70.90,226.65) scale(1,1.04)" font-size="14.6" fill="#000" stroke="#000" stroke-width="0.08">6</text>
<text transform="translate(142.35,278.80) scale(1,1.04)" font-size="20.4" fill="#000" stroke="#000" stroke-width="0.14">0.0</text><path d="M179.27,278.80 L177.50,278.80 L177.50,267.38 L175.30,268.67 L173.05,269.63 L173.05,268.00 L175.44,266.81 L177.28,265.30 L178.05,264.20 L179.27,264.20Z" fill="#000" stroke="#000" stroke-width="0.084"/>
<text transform="translate(244.68,278.80) scale(1,1.04)" font-size="20.4" fill="#000" stroke="#000" stroke-width="0.14">0.</text><path d="M270.26,278.80 L268.48,278.80 L268.48,267.38 L266.28,268.67 L264.04,269.63 L264.04,268.00 L266.42,266.81 L268.26,265.30 L269.04,264.20 L270.26,264.20Z" fill="#000" stroke="#000" stroke-width="0.084"/><text transform="translate(273.04,278.80) scale(1,1.04)" font-size="20.4" fill="#000" stroke="#000" stroke-width="0.14">0</text>
<path d="M369.76,278.80 L367.98,278.80 L367.98,267.38 L365.78,268.67 L363.53,269.63 L363.53,268.00 L365.92,266.81 L367.76,265.30 L368.53,264.20 L369.76,264.20Z" fill="#000" stroke="#000" stroke-width="0.084"/>
<path d="M466.41,278.80 L464.64,278.80 L464.64,267.38 L462.43,268.67 L460.19,269.63 L460.19,268.00 L462.58,266.81 L464.41,265.30 L465.19,264.20 L466.41,264.20Z" fill="#000" stroke="#000" stroke-width="0.084"/><text transform="translate(469.19,278.80) scale(1,1.04)" font-size="20.4" fill="#000" stroke="#000" stroke-width="0.14">0</text>
<text transform="translate(261.70,308.80) scale(1,1.04)" font-size="20.4" font-style="italic" fill="#000" stroke="#000" stroke-width="0.14">M</text>
<text transform="translate(279.00,299.60) scale(1,1.0)" font-size="14.4" fill="#000" stroke="#000" stroke-width="0.08">2</text>
<text transform="translate(287.10,308.80) scale(1,1.04)" font-size="20.4" fill="#000" stroke="#000" stroke-width="0.14">/</text>
<text transform="translate(293.40,308.80) scale(1,1.04)" font-size="20.4" font-style="italic" fill="#000" stroke="#000" stroke-width="0.14">H</text>
<text transform="translate(307.90,299.60) scale(1,1.0)" font-size="14.4" fill="#000" stroke="#000" stroke-width="0.08">2</text>
<g transform="translate(18.9,133.2) rotate(-90)"><text transform="translate(0.00,0.00) scale(1,1.0)" font-size="19.9" fill="#000" stroke="#000" stroke-width="0.14">f</text></g>
<path d="M144.2,127.7H190.2" stroke="#ff0000" stroke-width="1.35" fill="none"/>
<text transform="translate(205.70,134.45) scale(1,1.0)" font-size="16.7" fill="#ff0000" stroke="#ff0000" stroke-width="0.14">w</text>
<text transform="translate(218.30,135.00) scale(1,1.0)" font-size="16.7" fill="#ff0000" stroke="#ff0000" stroke-width="0.14">=</text>
<path d="M235.21,134.35 L233.76,134.35 L233.76,125.36 L231.96,126.37 L230.12,127.13 L230.12,125.85 L232.07,124.91 L233.58,123.73 L234.21,122.86 L235.21,122.86Z" fill="#ff0000" stroke="#ff0000" stroke-width="0.084"/>
<text transform="translate(237.99,134.35) scale(1,1.0)" font-size="16.7" fill="#ff0000" stroke="#ff0000" stroke-width="0.14">0</text>
<path d="M248.3,123.90h5.6" stroke="#ff0000" stroke-width="1.2" fill="none"/>
<text transform="translate(254.20,127.00) scale(1,0.96)" font-size="12.8" fill="#ff0000" stroke="#ff0000" stroke-width="0.04">2</text>
<path d="M144.2,171.45H190.2" stroke="#0000ff" stroke-width="1.35" fill="none"/>
<text transform="translate(205.70,178.20) scale(1,1.0)" font-size="16.7" fill="#0000ff" stroke="#0000ff" stroke-width="0.14">w</text>
<text transform="translate(218.30,178.75) scale(1,1.0)" font-size="16.7" fill="#0000ff" stroke="#0000ff" stroke-width="0.14">=</text>
<path d="M235.21,178.10 L233.76,178.10 L233.76,169.11 L231.96,170.12 L230.12,170.88 L230.12,169.60 L232.07,168.66 L233.58,167.48 L234.21,166.61 L235.21,166.61Z" fill="#0000ff" stroke="#0000ff" stroke-width="0.084"/>
<text transform="translate(237.99,178.10) scale(1,1.0)" font-size="16.7" fill="#0000ff" stroke="#0000ff" stroke-width="0.14">0</text>
<path d="M248.3,167.65h5.6" stroke="#0000ff" stroke-width="1.2" fill="none"/>
<text transform="translate(254.20,170.75) scale(1,0.96)" font-size="12.8" fill="#0000ff" stroke="#0000ff" stroke-width="0.04">3</text>
<path d="M144.2,215.1H190.2" stroke="#000000" stroke-width="1.35" fill="none"/>
<text transform="translate(205.70,221.85) scale(1,1.0)" font-size="16.7" fill="#000000" stroke="#000000" stroke-width="0.14">w</text>
<text transform="translate(218.30,222.40) scale(1,1.0)" font-size="16.7" fill="#000000" stroke="#000000" stroke-width="0.14">=</text>
<path d="M235.21,221.75 L233.76,221.75 L233.76,212.76 L231.96,213.77 L230.12,214.53 L230.12,213.25 L232.07,212.31 L233.58,211.13 L234.21,210.26 L235.21,210.26Z" fill="#000000" stroke="#000000" stroke-width="0.084"/>
<text transform="translate(237.99,221.75) scale(1,1.0)" font-size="16.7" fill="#000000" stroke="#000000" stroke-width="0.14">0</text>
<path d="M248.3,211.30h5.6" stroke="#000000" stroke-width="1.2" fill="none"/>
<text transform="translate(254.20,214.40) scale(1,0.96)" font-size="12.8" fill="#000000" stroke="#000000" stroke-width="0.04">4</text>
</g>
</svg>
</body></html>
